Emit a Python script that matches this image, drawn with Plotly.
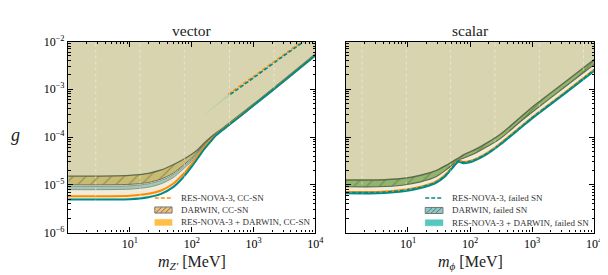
import plotly.graph_objects as go

# ------------------------------------------------------------------ data
# vector panel (x: m_Z' in MeV)
m_vec = [1, 10, 20, 32, 50, 70, 100, 126, 158, 200, 250, 316, 400, 1000, 3160, 10000]
g_vec_teal = [4.9e-6, 5.0e-6, 5.5e-6, 6.45e-6, 8.9e-6, 1.35e-5, 2.4e-5, 3.63e-5, 5.5e-5, 7.9e-5,
              1.1e-4, 1.41e-4, 1.78e-4, 4.57e-4, 1.51e-3, 5.13e-3]
g_vec_orange = [5.75e-6, 5.9e-6, 6.45e-6, 7.6e-6, 1.05e-5, 1.58e-5, 2.75e-5, 4.07e-5, 6.0e-5, 8.5e-5,
                1.135e-4, 1.445e-4, 1.82e-4, 4.62e-4, 1.53e-3, 5.19e-3]
g_vec_band_lo = [7.9e-6, 8.1e-6, 8.9e-6, 1.05e-5, 1.41e-5, 2.04e-5, 3.1e-5, 4.47e-5, 6.45e-5, 9.1e-5,
                 1.17e-4, 1.48e-4, 1.86e-4, 4.7e-4, 1.55e-3, 5.25e-3]
g_vec_band_hi = [9.3e-6, 9.5e-6, 1.05e-5, 1.23e-5, 1.62e-5, 2.3e-5, 3.4e-5, 4.8e-5, 6.8e-5, 9.3e-5,
                 1.19e-4, 1.5e-4, 1.88e-4, 4.7e-4, 1.55e-3, 5.25e-3]
g_vec_darwin_lo = [1.0e-5, 1.02e-5, 1.12e-5, 1.32e-5, 1.74e-5, 2.45e-5, 3.63e-5, 5.0e-5, 7.0e-5, 9.5e-5,
                   1.2e-4, 1.51e-4, 1.9e-4, 4.8e-4, 1.58e-3, 5.37e-3]
g_vec_darwin_hi = [1.51e-5, 1.58e-5, 1.74e-5, 2.04e-5, 2.63e-5, 3.3e-5, 4.37e-5, 5.5e-5, 7.4e-5, 9.8e-5,
                   1.23e-4, 1.53e-4, 1.93e-4, 4.9e-4, 1.62e-3, 5.5e-3]
# upper (trapping) boundaries, vector
m_vec_up_orange = [390, 1000, 3000, 8000]
g_vec_up_orange = [7.9e-4, 1.86e-3, 5.2e-3, 1.29e-2]
m_vec_up_teal = [420, 1000, 3000, 8000]
g_vec_up_teal = [7.8e-4, 1.74e-3, 4.9e-3, 1.2e-2]
m_vec_sliver = [150, 400]
g_vec_sliver_lo = [2.75e-4, 7.2e-4]
g_vec_sliver_hi = [2.75e-4, 8.1e-4]

# scalar panel (x: m_phi in MeV)
m_sca = [1, 3.2, 8, 16, 27.5, 40, 50, 65, 78, 100, 126, 190, 316, 630, 1000, 3160, 10000]
g_sca_darwin_hi = [1.26e-5, 1.26e-5, 1.35e-5, 1.58e-5, 1.95e-5, 2.5e-5, 2.95e-5, 3.6e-5, 4.2e-5, 4.9e-5,
                   5.6e-5, 7.6e-5, 1.17e-4, 2.5e-4, 4.2e-4, 1.32e-3, 4.2e-3]
g_sca_darwin_lo = [9.1e-6, 9.1e-6, 9.8e-6, 1.15e-5, 1.45e-5, 2.0e-5, 2.5e-5, 3.3e-5, 3.6e-5, 4.1e-5,
                   4.7e-5, 6.3e-5, 9.5e-5, 2.04e-4, 3.3e-4, 1.05e-3, 3.3e-3]
g_sca_orange = [7.1e-6, 7.1e-6, 7.8e-6, 9.1e-6, 1.15e-5, 1.62e-5, 2.24e-5, 3.25e-5, 3.0e-5, 3.16e-5,
                3.55e-5, 4.7e-5, 7.6e-5, 1.58e-4, 2.6e-4, 8.1e-4, 2.6e-3]
g_sca_teal_dash = [6.9e-6, 6.9e-6, 7.6e-6, 8.9e-6, 1.12e-5, 1.58e-5, 2.2e-5, 3.2e-5, 2.95e-5, 3.1e-5,
                   3.45e-5, 4.6e-5, 7.4e-5, 1.55e-4, 2.55e-4, 7.9e-4, 2.55e-3]
g_sca_teal = [6.6e-6, 6.6e-6, 7.2e-6, 8.5e-6, 1.07e-5, 1.51e-5, 2.1e-5, 3.0e-5, 2.8e-5, 2.95e-5,
              3.3e-5, 4.4e-5, 7.1e-5, 1.48e-4, 2.45e-4, 7.6e-4, 2.4e-3]

x_tickvals = [10, 100, 1000, 10000]
x_ticktext = ["10<sup>1</sup>", "10<sup>2</sup>", "10<sup>3</sup>", "10<sup>4</sup>"]
y_tickvals = [1e-6, 1e-5, 1e-4, 1e-3, 1e-2]
y_ticktext = ["10<sup>−6</sup>", "10<sup>−5</sup>", "10<sup>−4</sup>", "10<sup>−3</sup>", "10<sup>−2</sup>"]
x_minor = [k * 10 ** e for e in range(0, 4) for k in range(2, 10)]
y_minor = [k * 10.0 ** e for e in range(-6, -2) for k in range(2, 10)]
G_TOP = 1e-2

legend_vec = ["RES-NOVA-3, CC-SN", "DARWIN, CC-SN", "RES-NOVA-3 + DARWIN, CC-SN"]
legend_sca = ["RES-NOVA-3, failed SN", "DARWIN, failed SN", "RES-NOVA-3 + DARWIN, failed SN"]

# ------------------------------------------------------------------ style
FONT = "Liberation Serif, Times New Roman, serif"
ORANGE = "#ff8c00"
TEAL = "#008b8b"
KHAKI = "#d8d4b0"
CREAM = "#f1ebd8"
W, H = 608, 275

fig = go.Figure()
SP = dict(shape="spline", smoothing=0.75)


def line(x, y, xa, ya, color, width, dash="solid"):
    fig.add_trace(go.Scatter(x=x, y=y, xaxis=xa, yaxis=ya, mode="lines",
                             line=dict(color=color, width=width, dash=dash, **SP),
                             showlegend=False, hoverinfo="skip"))


def band(x, lo, hi, xa, ya, fillcolor, pattern=None):
    fig.add_trace(go.Scatter(x=x, y=lo, xaxis=xa, yaxis=ya, mode="lines",
                             line=dict(width=0, **SP), showlegend=False, hoverinfo="skip"))
    kw = dict(fillpattern=pattern) if pattern else {}
    fig.add_trace(go.Scatter(x=x, y=hi, xaxis=xa, yaxis=ya, mode="lines", fill="tonexty",
                             fillcolor=fillcolor, line=dict(width=0, **SP),
                             showlegend=False, hoverinfo="skip", **kw))


# ---------------- vector panel
top_v = [G_TOP] * len(m_vec)
band(m_vec, g_vec_teal, top_v, "x", "y", CREAM)
band(m_vec, g_vec_darwin_hi, top_v, "x", "y", KHAKI)
band(m_vec, g_vec_band_lo, g_vec_band_hi, "x", "y", "#a3c7b5")
line(m_vec, g_vec_band_lo, "x", "y", "#7f8f84", 0.9)
line(m_vec, g_vec_band_hi, "x", "y", "#7f8f84", 0.9)
band(m_vec, g_vec_darwin_lo, g_vec_darwin_hi, "x", "y", "#c8bb72",
     dict(shape="/", fgcolor="#4f4f38", bgcolor="#c8bb72", size=9, solidity=0.12))
line(m_vec, g_vec_darwin_lo, "x", "y", "#6f6f55", 1.0)
line(m_vec, g_vec_darwin_hi, "x", "y", "#5f6a4c", 1.3)
line(m_vec, g_vec_orange, "x", "y", ORANGE, 2.0)
line(m_vec, g_vec_teal, "x", "y", TEAL, 2.0)
band(m_vec_sliver, g_vec_sliver_lo, g_vec_sliver_hi, "x", "y", "rgba(150,205,140,0.55)")
line(m_vec_up_orange, g_vec_up_orange, "x", "y", ORANGE, 1.6, "4px,2px")
line(m_vec_up_teal, g_vec_up_teal, "x", "y", TEAL, 1.6, "4px,2px")

# ---------------- scalar panel
top_s = [G_TOP] * len(m_sca)
band(m_sca, g_sca_teal, top_s, "x2", "y2", CREAM)
band(m_sca, g_sca_darwin_hi, top_s, "x2", "y2", KHAKI)
band(m_sca, g_sca_darwin_lo, g_sca_darwin_hi, "x2", "y2", "#93b46e",
     dict(shape="/", fgcolor="#3e5a30", bgcolor="#93b46e", size=9, solidity=0.12))
line(m_sca, g_sca_darwin_lo, "x2", "y2", "#5d6b4a", 1.1)
line(m_sca, g_sca_darwin_hi, "x2", "y2", "#5d6b4a", 1.5)
line(m_sca, g_sca_orange, "x2", "y2", ORANGE, 1.8)
line(m_sca, g_sca_teal, "x2", "y2", TEAL, 1.8)
line(m_sca, g_sca_teal_dash, "x2", "y2", TEAL, 1.5, "4px,2px")

# ---------------- axes
def ax_common():
    return dict(type="log", showline=True, linecolor="black", linewidth=1.3, mirror="allticks",
                ticks="inside", ticklen=5, tickwidth=1.1, tickcolor="black",
                showgrid=False, zeroline=False, ticklabeloverflow="allow",
                tickfont=dict(family=FONT, size=12, color="black"))


def minor(vals):
    return dict(ticks="inside", ticklen=2.5, tickwidth=0.9, tickcolor="black", tickvals=vals)


ydom = [1 - 229 / H, 1 - 27 / H]
xa = ax_common(); xa.update(domain=[61 / W, 312 / W], range=[0, 4], anchor="y",
                            tickvals=x_tickvals, ticktext=x_ticktext, minor=minor(x_minor))
xb = ax_common(); xb.update(domain=[343 / W, 595 / W], range=[0, 4], anchor="y2",
                            tickvals=x_tickvals, ticktext=x_ticktext, minor=minor(x_minor))
ya = ax_common(); ya.update(domain=ydom, range=[-6, -2], anchor="x",
                            tickvals=y_tickvals, ticktext=y_ticktext, minor=minor(y_minor))
yb = ax_common(); yb.update(domain=ydom, range=[-6, -2], anchor="x2",
                            tickvals=y_tickvals, showticklabels=False, minor=minor(y_minor))

shapes = []
annotations = []

# faint dotted vertical guide lines
for xr, fr in [("x domain", f) for f in [0.112, 0.291, 0.470, 0.653, 0.833]] + \
              [("x2 domain", f) for f in [0.065, 0.243, 0.422, 0.600, 0.779, 0.957]]:
    shapes.append(dict(type="line", xref=xr, yref="y domain" if xr == "x domain" else "y2 domain",
                       x0=fr, x1=fr, y0=0, y1=1, layer="above",
                       line=dict(color="rgba(255,255,255,0.45)", width=1, dash="dot")))


def P(px):
    return px / W


def Q(py):
    return 1 - py / H


def legend(x0, x1, xt, rows, texts, dash_col, hatch_fill, solid_fill):
    r1, r2, r3 = rows
    shapes.append(dict(type="line", xref="paper", yref="paper", x0=P(x0), x1=P(x1), y0=Q(r1), y1=Q(r1),
                       line=dict(color=dash_col, width=1.6, dash="4px,2px")))
    shapes.append(dict(type="rect", xref="paper", yref="paper", x0=P(x0), x1=P(x1),
                       y0=Q(r2 + 3.2), y1=Q(r2 - 3.2), fillcolor=hatch_fill,
                       line=dict(color="#777777", width=1)))
    for hx in [x0 + 1.0, x0 + 5.8, x0 + 10.6]:
        shapes.append(dict(type="line", xref="paper", yref="paper", x0=P(hx), x1=P(hx + 6.0),
                           y0=Q(r2 + 3.0), y1=Q(r2 - 3.0), line=dict(color="#666666", width=0.9)))
    shapes.append(dict(type="rect", xref="paper", yref="paper", x0=P(x0), x1=P(x1),
                       y0=Q(r3 + 3.2), y1=Q(r3 - 3.2), fillcolor=solid_fill,
                       line=dict(color=solid_fill, width=0.5)))
    for t, r in zip(texts, rows):
        annotations.append(dict(text=t, x=P(xt), y=Q(r), xref="paper", yref="paper", showarrow=False,
                                xanchor="left", yanchor="middle",
                                font=dict(family=FONT, size=9, color="#333333")))


legend(149, 166.5, 173.5, (192.5, 205.2, 218.3), legend_vec, ORANGE, "#f0c27c", "#ffbe45")
legend(423.5, 441.5, 448.5, (192.5, 205.7, 218.7), legend_sca, TEAL, "#8acbc8", "#55c8bf")

# titles and axis labels
annotations += [
    dict(text="vector", x=P(186.5), y=Q(26.5), xref="paper", yref="paper", showarrow=False,
         xanchor="center", yanchor="bottom", font=dict(family=FONT, size=15.5, color="#222")),
    dict(text="scalar", x=P(469), y=Q(26.5), xref="paper", yref="paper", showarrow=False,
         xanchor="center", yanchor="bottom", font=dict(family=FONT, size=15.5, color="#222")),
    dict(text="<i>m</i><sub><i>Z′</i></sub> [MeV]", x=P(186.5), y=Q(261), xref="paper", yref="paper",
         showarrow=False, xanchor="center", yanchor="middle",
         font=dict(family=FONT, size=16, color="#222")),
    dict(text="<i>m</i><sub><i>ϕ</i></sub> [MeV]", x=P(469), y=Q(261), xref="paper", yref="paper",
         showarrow=False, xanchor="center", yanchor="middle",
         font=dict(family=FONT, size=16, color="#222")),
    dict(text="<i>g</i>", x=P(8), y=Q(126), xref="paper", yref="paper", showarrow=False,
         xanchor="center", yanchor="middle", font=dict(family=FONT, size=18, color="#222")),
]

fig.update_layout(width=W, height=H, margin=dict(l=0, r=0, t=0, b=0),
                  paper_bgcolor="white", plot_bgcolor="white", showlegend=False,
                  font=dict(family=FONT),
                  xaxis=xa, xaxis2=xb, yaxis=ya, yaxis2=yb,
                  shapes=shapes, annotations=annotations)

fig.write_html("out.html")
